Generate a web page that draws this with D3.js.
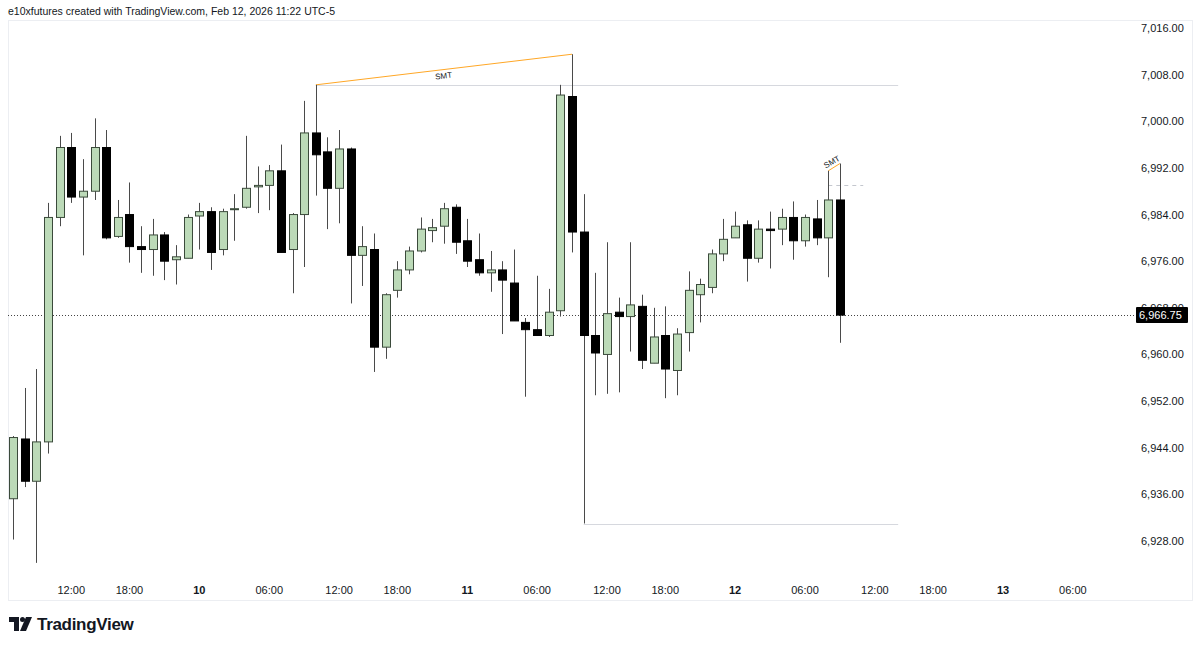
<!DOCTYPE html>
<html>
<head>
<meta charset="utf-8">
<script src="https://cdn.jsdelivr.net/npm/d3@7"></script>
<style>
  html, body { margin: 0; padding: 0; background: #fff; }
  svg { display: block; font-family: "Liberation Sans", Arial, sans-serif; }
</style>
</head>
<body>
<div id="chart"></div>
<script>
// ES 1h bars, Feb 9 07:00 -> Feb 12 09:00 (bar index 0..71)
const opens  = [6935.25,6945.5,6938.25,6945,6983.5,6995.5,6987,6988,6995.5,6980.25,6984,6978.5,6978,6980.5,6976.25,6976.5,6983.75,6984.5,6978,6985,6985.25,6988.75,6989,6991.5,6978,6984,6998,6994.75,6988.5,6995.25,6977,6978,6961.25,6971,6974.5,6977.75,6981.25,6982,6985.25,6979.5,6976.25,6974,6974.5,6972.25,6965.5,6964.25,6963.25,6967.5,7004.25,6981,6963.25,6960,6967.25,6966.5,6968.25,6958.5,6963.25,6957.25,6963.75,6970.25,6971.5,6977.25,6980,6982.25,6976.5,6981.5,6981.5,6983.5,6979.5,6983.25,6980,6986.5];
const highs  = [6946,6954.25,6957.5,6986,6997.5,6998,6993.5,7000.5,6998.5,6986.5,6989.5,6982,6983.25,6981,6978.75,6984,6986,6985.25,6985,6987.5,6997.5,6992.25,6992.5,6996,6984.25,7003.5,7006.25,6997.25,6998.5,6995.5,6982,6980.75,6970.5,6976,6978.5,6983.5,6983.25,6986,6985.75,6983.25,6980.75,6977.75,6976,6978,6966.25,6973.5,6971.25,7006.25,7011.5,6987.5,6974,6979.25,6969.75,6979.25,6970.25,6968,6968.25,6964.5,6974.25,6973,6978,6983.25,6984.5,6983,6983,6984.5,6985,6986.25,6984,6986.5,6991.5,6992.75];
const lows   = [6928.25,6937.25,6924.25,6943,6982,6986,6977,6986.5,6979.75,6980,6975.75,6974,6973.5,6972.75,6972,6976.5,6978,6974.5,6977,6979.5,6985,6984.25,6984.75,6977.5,6970.5,6975,6987.25,6981.5,6982.5,6968.75,6971.75,6957,6959.25,6969.75,6973.75,6977.5,6979.25,6979,6977.25,6975,6973.5,6970.75,6963.5,6965.75,6952.75,6963.25,6963,6966.5,6977.5,6931,6953,6953.25,6953.5,6960.5,6957.5,6958.5,6952.5,6953,6960.5,6965.5,6970.5,6976,6980,6972.5,6975.75,6974.75,6978.75,6976.25,6978.5,6978.75,6973.25,6962];
const closes = [6945.75,6938.25,6945,6983.5,6995.5,6987,6988,6995.5,6980,6983.5,6978.5,6978,6980.5,6976,6976.75,6983.5,6984.5,6977.5,6984.5,6985,6988.5,6989,6991.5,6977.5,6984,6998,6994.25,6988.5,6995.25,6977,6978.5,6961.25,6970.25,6974.5,6977.75,6981.5,6981.75,6985,6979.25,6976,6974,6974.5,6972.75,6965.75,6964.25,6963.25,6967.25,7004.5,6981,6963.25,6960.25,6967,6966.5,6968.5,6959,6963,6957.5,6963.5,6971,6972,6977.25,6979.75,6982,6976.5,6981.5,6981.25,6983.5,6979.5,6983.5,6980,6986.5,6966.75];

// time axis ticks (bar index, label, day boundary?)
const tickIdx    = [5, 10, 16, 22, 28, 33, 39, 45, 51, 56, 62, 68, 74, 79, 85, 91];
const tickLabels = ["12:00","18:00","10","06:00","12:00","18:00","11","06:00","12:00","18:00","12","06:00","12:00","18:00","13","06:00"];
const tickBold   = [false,false,true,false,false,false,true,false,false,false,true,false,false,false,true,false];

// price scale ticks
const priceTicks = [7016, 7008, 7000, 6992, 6984, 6976, 6968, 6960, 6952, 6944, 6936, 6928];
const lastPrice = 6966.75;

// drawings: SMT lines join two bar highs, rays run to bar 76
const smtFrom = [26, 70];
const smtTo   = [48, 71];
const levelPrices = [7006.25, 6931];
const levelStart  = [26, 49];
const levelEnd = 76;
const dashLevel = 6989, dashStart = 70, dashEnd = 73;

(function () {
  const W = 1200, H = 647;
  const svg = d3.select("#chart").append("svg")
    .attr("width", W)
    .attr("height", H);

  svg.append("rect").attr("width", W).attr("height", H).attr("fill", "#fff");

  // x: bar index -> pixel, y: price -> pixel
  const x = d3.scaleLinear().domain([0, 85]).range([13, 1003]);
  const y = d3.scaleLinear().domain([6928, 7016]).range([541, 28]);
  const bodyW = 8;

  const bars = opens.map((o, i) => ({ i, o, h: highs[i], l: lows[i], c: closes[i] }));
  const ly = Math.round(y(lastPrice));

  // clip so the price tick hidden by the last-price badge only shows its top part
  svg.append("defs").append("clipPath")
    .attr("id", "badge-clip")
    .append("rect")
    .attr("x", 1100).attr("y", 0).attr("width", 100).attr("height", ly - 8);

  // header
  svg.append("text")
    .attr("x", 8).attr("y", 15)
    .attr("font-size", 10.5)
    .attr("fill", "#131722")
    .text("e10xfutures created with TradingView.com, Feb 12, 2026 11:22 UTC-5");

  // pane frame
  svg.append("rect")
    .attr("x", 8.5).attr("y", 20.5)
    .attr("width", 1184).attr("height", 580)
    .attr("fill", "none")
    .attr("stroke", "#eceef2");

  const gDraw = svg.append("g");
  const gCandles = svg.append("g");
  const gAxis = svg.append("g");

  // horizontal rays
  levelPrices.forEach((p, k) => {
    gDraw.append("line")
      .attr("x1", x(levelStart[k])).attr("x2", x(levelEnd))
      .attr("y1", Math.round(y(p)) + 0.5).attr("y2", Math.round(y(p)) + 0.5)
      .attr("stroke", "#d6d8de").attr("stroke-width", 1);
  });

  gDraw.append("line")
    .attr("x1", x(dashStart)).attr("x2", x(dashEnd))
    .attr("y1", Math.round(y(dashLevel)) + 0.5).attr("y2", Math.round(y(dashLevel)) + 0.5)
    .attr("stroke", "#c4c7ce").attr("stroke-dasharray", "4,4");

  // last price dotted line
  gDraw.append("line")
    .attr("x1", 8).attr("x2", 1136)
    .attr("y1", ly + 0.5).attr("y2", ly + 0.5)
    .attr("stroke", "#444").attr("stroke-dasharray", "1,2");

  // candles
  const candle = gCandles.selectAll("g.candle")
    .data(bars)
    .join("g")
    .attr("class", "candle");

  candle.append("line")
    .attr("x1", d => Math.round(x(d.i)) + 0.5)
    .attr("x2", d => Math.round(x(d.i)) + 0.5)
    .attr("y1", d => y(d.h))
    .attr("y2", d => y(d.l))
    .attr("stroke", "#4a4a4a")
    .attr("stroke-width", 1);

  candle.append("rect")
    .attr("x", d => Math.round(x(d.i)) - bodyW / 2 + 0.5)
    .attr("y", d => y(Math.max(d.o, d.c)))
    .attr("width", bodyW)
    .attr("height", d => Math.max(1, Math.abs(y(d.o) - y(d.c))))
    .attr("fill", d => d.c >= d.o ? "#bcdab8" : "#000")
    .attr("stroke", d => d.c >= d.o ? "#3b4a3b" : "#000")
    .attr("stroke-width", 1);

  // SMT lines
  smtFrom.forEach((a, k) => {
    const b = smtTo[k];
    gDraw.append("line")
      .attr("x1", x(a)).attr("y1", y(highs[a]))
      .attr("x2", x(b)).attr("y2", y(highs[b]))
      .attr("stroke", "#ffa726").attr("stroke-width", 1);
  });
  // SMT labels
  const mid0x = (x(smtFrom[0]) + x(smtTo[0])) / 2;
  const mid0y = (y(highs[smtFrom[0]]) + y(highs[smtTo[0]])) / 2;
  const ang0 = Math.atan2(y(highs[smtTo[0]]) - y(highs[smtFrom[0]]), x(smtTo[0]) - x(smtFrom[0])) * 180 / Math.PI;
  svg.append("text")
    .attr("transform", `translate(${mid0x},${mid0y + 9}) rotate(${ang0})`)
    .attr("text-anchor", "middle")
    .attr("font-size", 8).attr("fill", "#131722")
    .text("SMT");
  const mid1x = (x(smtFrom[1]) + x(smtTo[1])) / 2;
  const mid1y = (y(highs[smtFrom[1]]) + y(highs[smtTo[1]])) / 2;
  svg.append("text")
    .attr("transform", `translate(${mid1x - 1},${mid1y - 3}) rotate(-30)`)
    .attr("text-anchor", "middle")
    .attr("font-size", 8).attr("fill", "#131722")
    .text("SMT");

  // price scale
  gAxis.selectAll("text.price")
    .data(priceTicks)
    .join("text")
    .attr("class", "price")
    .attr("x", 1141)
    .attr("y", d => y(d) + 4)
    .attr("font-size", 11)
    .attr("fill", "#131722")
    .attr("clip-path", d => Math.abs(y(d) - ly) < 12 ? "url(#badge-clip)" : null)
    .text(d => d3.format(",.2f")(d));

  gAxis.append("rect")
    .attr("x", 1136).attr("y", ly - 8)
    .attr("width", 52).attr("height", 16)
    .attr("rx", 1)
    .attr("fill", "#000");
  gAxis.append("text")
    .attr("x", 1139).attr("y", ly + 4)
    .attr("font-size", 11)
    .attr("fill", "#fff")
    .text(d3.format(",.2f")(lastPrice));

  // time scale
  gAxis.selectAll("text.time")
    .data(tickIdx)
    .join("text")
    .attr("class", "time")
    .attr("x", d => x(d))
    .attr("y", 594)
    .attr("text-anchor", "middle")
    .attr("font-size", 11)
    .attr("font-weight", (d, k) => tickBold[k] ? "bold" : "normal")
    .attr("fill", "#131722")
    .text((d, k) => tickLabels[k]);

  // TradingView logo
  const logo = svg.append("g").attr("transform", "translate(9,617)");
  logo.append("path")
    .attr("d", "M0,0 H10 V14 H5 V5 H0 Z")
    .attr("fill", "#131722");
  logo.append("circle").attr("cx", 13.5).attr("cy", 2.5).attr("r", 2.5).attr("fill", "#131722");
  logo.append("path")
    .attr("d", "M17,0 H23 L17,14 H11 Z")
    .attr("fill", "#131722");
  svg.append("text")
    .attr("x", 37).attr("y", 630)
    .attr("font-size", 17)
    .attr("font-weight", "bold")
    .attr("fill", "#131722")
    .attr("letter-spacing", -0.3)
    .text("TradingView");
})();
</script>
</body>
</html>
